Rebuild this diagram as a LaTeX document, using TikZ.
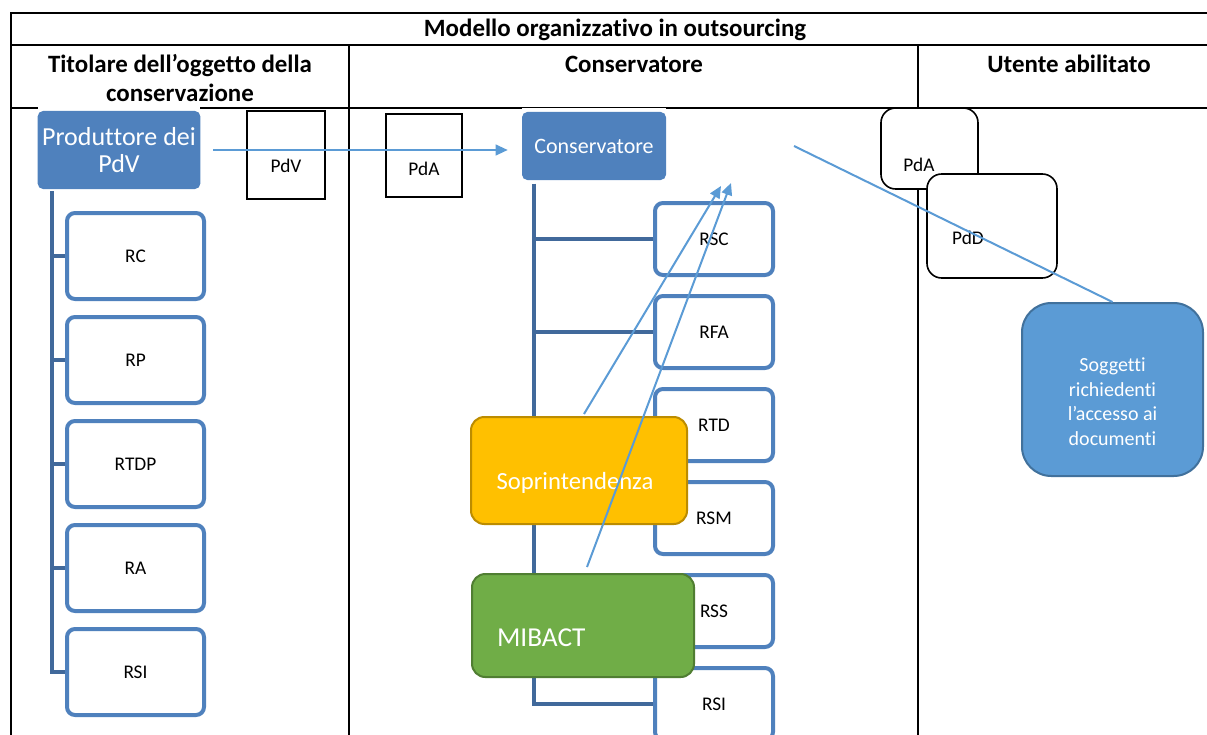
\documentclass[tikz,border=0pt]{standalone}
\usepackage{fontspec}
\setmainfont{Carlito}[Ligatures={TeX,NoCommon}]
\usepackage{tikz}
\usetikzlibrary{arrows.meta}

\definecolor{smartblue}{HTML}{4F81BD}
\definecolor{linkblue}{HTML}{41699B}
\definecolor{flowblue}{HTML}{5B9BD5}
\definecolor{userblue}{HTML}{41719C}
\definecolor{soprfill}{HTML}{FFC000}
\definecolor{soprdraw}{HTML}{BC8C00}
\definecolor{mibfill}{HTML}{70AD47}
\definecolor{mibdraw}{HTML}{507E32}

\tikzset{
  tableline/.style={line width=1.5pt},
  header/.style={font=\fontsize{18.7}{21.75}\selectfont\bfseries, align=center},
  headbox/.style={fill=smartblue, rounded corners=4pt, text=white, align=center},
  rolebox/.style={draw=smartblue, line width=3pt, fill=white, rounded corners=6pt,
    font=\fontsize{14.5}{17}\selectfont},
  packbox/.style={draw, line width=1.2pt, fill=white, font=\fontsize{14.5}{17}\selectfont},
  authbox/.style={line width=1.5pt, rounded corners=10pt, text=white},
  branch/.style={draw=linkblue, line width=3.2pt},
  flow/.style={draw=flowblue, line width=1.5pt},
  flowtip/.style={flow, -{Triangle[length=9pt,width=8pt]}}
}

\begin{document}
\begin{tikzpicture}[x=0.75pt,y=-0.75pt]
  \useasboundingbox (0,0) rectangle (1207,735);
  \clip (0,0) rectangle (1207,735);

  \draw[tableline] (1210,13) -- (11,13) -- (11,740);
  \draw[tableline] (11,45) -- (1210,45);
  \draw[tableline] (11,108) -- (1210,108);
  \draw[tableline] (349,45) -- (349,740);
  \draw[tableline] (918,45) -- (918,740);

  \node[header] (title) at (615,30) {Modello organizzativo in outsourcing};
  \node[header] (coltitolare) at (180,78) {Titolare dell’oggetto della\\conservazione};
  \node[header] (colconserv) at (634,64) {Conservatore};
  \node[header] (colutente) at (1069,64) {Utente abilitato};

  \node[minimum width=121.5pt, minimum height=58.5pt] (produttore) at (119,150) {};
  \fill[white] ([yshift=2.5pt]produttore.north west) rectangle (produttore.east);
  \node[headbox, minimum width=121.5pt, minimum height=58.5pt,
    font=\fontsize{19.5}{20.5}\selectfont] at (produttore) {Produttore dei\\PdV};

  \node[minimum width=108pt, minimum height=51pt] (conservatore) at (594,146) {};
  \fill[white] ([yshift=3pt]conservatore.north west) rectangle (conservatore.east);
  \node[headbox, minimum width=108pt, minimum height=51pt,
    font=\fontsize{16.5}{19}\selectfont] at (conservatore) {Conservatore};

  \node[rolebox, minimum width=102.75pt, minimum height=64.5pt] (rc) at (135.5,256) {RC};
  \node[rolebox, minimum width=102.75pt, minimum height=64.5pt] (rp) at (135.5,360) {RP};
  \node[rolebox, minimum width=102.75pt, minimum height=64.5pt] (rtdp) at (135.5,464) {RTDP};
  \node[rolebox, minimum width=102.75pt, minimum height=64.5pt] (ra) at (135.5,568) {RA};
  \node[rolebox, minimum width=102.75pt, minimum height=64.5pt] (rsileft) at (135.5,672) {RSI};

  \draw[branch] ([xshift=10.5pt,yshift=-1.5pt]produttore.south west) |- (rsileft.west);
  \foreach \b in {rc,rp,rtdp,ra}
    \draw[branch] (\b.west) -- ++(-11.25pt,0);

  \node[rolebox, minimum width=88.5pt, minimum height=54pt] (rsc) at (714,239) {RSC};
  \node[rolebox, minimum width=88.5pt, minimum height=54pt] (rfa) at (714,332) {RFA};
  \node[rolebox, minimum width=88.5pt, minimum height=54pt] (rtd) at (714,425) {RTD};
  \node[rolebox, minimum width=88.5pt, minimum height=54pt] (rsm) at (714,518) {RSM};
  \node[rolebox, minimum width=88.5pt, minimum height=54pt] (rss) at (714,611) {RSS};
  \node[rolebox, minimum width=88.5pt, minimum height=54pt] (rsiright) at (714,704) {RSI};

  \draw[branch] ([xshift=9pt,yshift=-2.5pt]conservatore.south west) |- (rsiright.west);
  \foreach \b in {rsc,rfa,rtd,rsm,rss}
    \draw[branch] (\b.west) -- ++(-90pt,0);

  \node[packbox, minimum width=58.5pt, minimum height=66pt,
    label={[yshift=-8.25pt,font=\fontsize{14.5}{17}\selectfont]center:PdV}] (pdv) at (286,155) {};
  \node[packbox, minimum width=57pt, minimum height=62.25pt,
    label={[yshift=-10pt,font=\fontsize{14.5}{17}\selectfont]center:PdA}] (pdaleft) at (424,155.5) {};

  \node[authbox, draw=soprdraw, fill=soprfill, minimum width=162pt, minimum height=80.25pt,
    label={[xshift=-3pt,yshift=-9.4pt,text=white,font=\fontsize{18.5}{21}\selectfont]center:Soprintendenza}]
    (soprintendenza) at (579,470.5) {};
  \node[authbox, draw=mibdraw, fill=mibfill, minimum width=166.5pt, minimum height=77.25pt,
    label={[anchor=west,xshift=16pt,yshift=-9.4pt,text=white,font=\fontsize{20.5}{23}\selectfont]west:MIBACT}]
    (mibact) at (583,625.5) {};

  \coordinate (tipsopr) at (721,186);
  \coordinate (tipmib) at (731,183);
  \draw[flowtip, shorten <=9.75pt, shorten >=10.5pt] (produttore.east) -- (produttore.east -| conservatore.west);
  \draw[flowtip] ([xshift=3.75pt,yshift=1.5pt]soprintendenza.north) -- (tipsopr);
  \draw[flowtip] ([xshift=3pt,yshift=4.5pt]mibact.north) -- (tipmib);

  \node[packbox, rounded corners=11pt, minimum width=72.75pt, minimum height=60.75pt,
    label={[xshift=-7.9pt,yshift=-12.4pt,font=\fontsize{14.5}{17}\selectfont]center:PdA}] (pdaright) at (929.5,148.5) {};
  \node[packbox, rounded corners=11pt, minimum width=97.5pt, minimum height=78pt,
    label={[xshift=-18pt,yshift=-9pt,font=\fontsize{14.5}{17}\selectfont]center:PdD}] (pdd) at (992,226) {};

  \node[draw=userblue, fill=flowblue, line width=1.5pt, rounded corners=22pt,
    minimum width=135.75pt, minimum height=129.75pt,
    label={[yshift=-9pt,text=white,align=center,font=\fontsize{15}{18.4}\selectfont]center:Soggetti\\richiedenti\\l’accesso ai\\documenti}]
    (soggetti) at (1112.5,389.5) {};

  \coordinate (reqend) at (794,146);
  \draw[flow] (soggetti.north) -- (reqend);
\end{tikzpicture}
\end{document}
